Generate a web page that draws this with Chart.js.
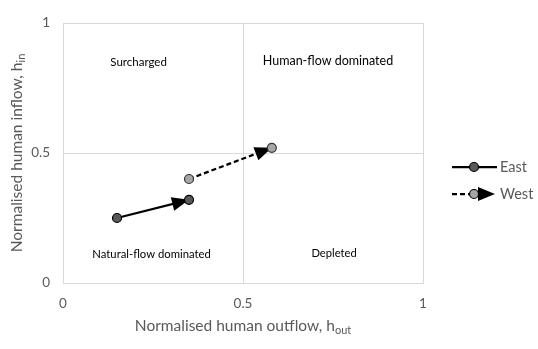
<html>
  <head>
    <style>
      body { margin: 0; background: #fff; }
      .chart-container { width: 538px; height: 349px; }
    </style>
  </head>
  <body>
    <div class="chart-container">
      <canvas id="quadChart"></canvas>
    </div>

    <script src="https://cdn.jsdelivr.net/npm/chart.js@4.4.1/dist/chart.umd.min.js"></script>
    <script>
// series data (normalised outflow, inflow)
const eastOut = [0.15, 0.35];
const eastIn = [0.25, 0.32];
const westOut = [0.35, 0.58];
const westIn = [0.40, 0.52];
const seriesNames = ["East", "West"];
const axisTicks = [0, 0.5, 1];
const regionLabels = ["Surcharged", "Human-flow dominated", "Natural-flow dominated", "Depleted"];
const regionAt = [[0.21, 0.85], [0.736, 0.854], [0.246, 0.112], [0.753, 0.115]];

const grey = '#595959';
const labelFont = '"Lato", "Open Sans", sans-serif';
const regionFontSizes = [11.5, 12.5, 11.3, 11.2];

function toPoints(xs, ys) {
  return xs.map((x, i) => ({x: x, y: ys[i]}));
}

function arrowHead(ctx, x0, y0, x1, y1, len, half) {
  const a = Math.atan2(y1 - y0, x1 - x0);
  const bx = x1 - len * Math.cos(a), by = y1 - len * Math.sin(a);
  ctx.beginPath();
  ctx.moveTo(x1, y1);
  ctx.lineTo(bx + half * Math.sin(a), by - half * Math.cos(a));
  ctx.lineTo(bx - half * Math.sin(a), by + half * Math.cos(a));
  ctx.closePath();
  ctx.fillStyle = '#000';
  ctx.fill();
}

// text with a subscript part, centred on cx
function subText(ctx, main, sub, size, cx, cy) {
  ctx.font = size + 'px ' + labelFont;
  const w1 = ctx.measureText(main).width;
  ctx.font = Math.round(size * 0.7) + 'px ' + labelFont;
  const w2 = ctx.measureText(sub).width;
  const start = cx - (w1 + w2) / 2;
  ctx.textAlign = 'left';
  ctx.textBaseline = 'middle';
  ctx.fillStyle = grey;
  ctx.font = size + 'px ' + labelFont;
  ctx.fillText(main, start, cy);
  ctx.font = Math.round(size * 0.7) + 'px ' + labelFont;
  ctx.fillText(sub, start + w1, cy + size * 0.3);
}

const decor = {
  id: 'decor',
  beforeDatasetsDraw(chart) {
    const ctx = chart.ctx;
    const xs = chart.scales.x, ys = chart.scales.y;
    ctx.save();
    [[eastOut, eastIn], [westOut, westIn]].forEach(s => {
      arrowHead(ctx, xs.getPixelForValue(s[0][0]), ys.getPixelForValue(s[1][0]),
        xs.getPixelForValue(s[0][1]), ys.getPixelForValue(s[1][1]), 17, 7);
    });
    // region labels
    ctx.fillStyle = '#000';
    ctx.textAlign = 'center';
    ctx.textBaseline = 'middle';
    regionLabels.forEach((t, i) => {
      ctx.font = regionFontSizes[i] + 'px ' + labelFont;
      ctx.fillText(t, xs.getPixelForValue(regionAt[i][0]), ys.getPixelForValue(regionAt[i][1]));
    });
    ctx.restore();
  },
  afterDraw(chart) {
    const ctx = chart.ctx;
    const area = chart.chartArea;
    ctx.save();
    // axis titles
    subText(ctx, 'Normalised human outflow, h', 'out', 15.5, (area.left + area.right) / 2, 326);
    ctx.translate(17, (area.top + area.bottom) / 2);
    ctx.rotate(-Math.PI / 2);
    subText(ctx, 'Normalised human inflow, h', 'in', 15.5, 0, 0);
    ctx.restore();

    // legend
    ctx.save();
    const lx = 452, rows = [167, 194];
    rows.forEach((y, i) => {
      ctx.strokeStyle = '#000';
      ctx.lineWidth = 2.25;
      ctx.setLineDash(i === 0 ? [] : [5, 3]);
      ctx.beginPath();
      ctx.moveTo(lx, y);
      ctx.lineTo(i === 0 ? lx + 45 : lx + 30, y);
      ctx.stroke();
      ctx.setLineDash([]);
      if (i === 1) arrowHead(ctx, lx, y, lx + 43, y, 17, 7);
      ctx.beginPath();
      ctx.arc(lx + 22, y, 4.5, 0, Math.PI * 2);
      ctx.fillStyle = i === 0 ? '#595959' : '#a6a6a6';
      ctx.fill();
      ctx.lineWidth = 1.2;
      ctx.stroke();
      ctx.fillStyle = grey;
      ctx.font = '14.5px ' + labelFont;
      ctx.textAlign = 'left';
      ctx.textBaseline = 'middle';
      ctx.fillText(seriesNames[i], lx + 48, y);
    });
    ctx.restore();
  }
};

const ctx = document.getElementById('quadChart').getContext('2d');
new Chart(ctx, {
  type: 'scatter',
  data: {
    datasets: [
      {
        label: seriesNames[0],
        data: toPoints(eastOut, eastIn),
        showLine: true,
        borderColor: '#000',
        borderWidth: 2.25,
        pointRadius: 4.5,
        pointBackgroundColor: '#595959',
        pointBorderColor: '#000',
        pointBorderWidth: 1.2,
      },
      {
        label: seriesNames[1],
        data: toPoints(westOut, westIn),
        showLine: true,
        borderColor: '#000',
        borderWidth: 2.25,
        borderDash: [5, 3],
        pointRadius: 4.5,
        pointBackgroundColor: '#a6a6a6',
        pointBorderColor: '#333',
        pointBorderWidth: 1.2,
      }
    ]
  },
  options: {
    responsive: true,
    maintainAspectRatio: false,
    animation: false,
    layout: {padding: {left: 0, top: 23, right: 115, bottom: 0}},
    plugins: {legend: {display: false}, tooltip: {enabled: false}},
    scales: {
      x: {
        min: 0, max: 1,
        afterBuildTicks: s => { s.ticks = axisTicks.map(v => ({value: v})); },
        afterFit: s => { s.height = 66; },
        grid: {color: '#d9d9d9', drawTicks: false},
        border: {color: '#d9d9d9'},
        ticks: {padding: 13, color: grey, font: {family: labelFont, size: 13.5}, maxRotation: 0,
          callback: v => String(v)}
      },
      y: {
        min: 0, max: 1,
        afterBuildTicks: s => { s.ticks = axisTicks.map(v => ({value: v})); },
        afterFit: s => { s.width = 63; },
        grid: {color: '#d9d9d9', drawTicks: false},
        border: {color: '#d9d9d9'},
        ticks: {padding: 13, color: grey, font: {family: labelFont, size: 13.5},
          callback: v => String(v)}
      }
    }
  },
  plugins: [decor]
});
    </script>
  </body>
</html>
